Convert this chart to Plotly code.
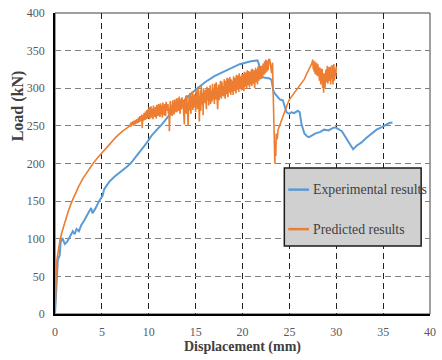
import plotly.graph_objects as go

# ---------------- data ----------------
exp_x = [0, 0.1, 0.2, 0.3, 0.5, 0.6, 0.77, 0.9, 1.05, 1.3, 1.6, 1.9, 2.1, 2.3, 2.55, 2.8, 3.1, 3.5, 3.85, 4.0,
         4.3, 4.7, 5.07, 5.25, 5.5, 5.8, 6.3, 6.8, 7.3, 7.7, 8.05, 8.6, 9.2, 9.7, 10.3, 10.8, 11.4, 12.1, 12.8,
         13.5, 14.2, 15.0, 16.0, 17.0, 17.8, 18.5, 19.1, 19.7, 20.3, 20.9, 21.6, 21.75, 21.9, 22.3, 22.9, 23.1,
         23.3, 23.5, 23.8, 24.0, 24.3, 24.5, 24.7, 25.0, 25.2, 25.5, 25.9, 26.1, 26.3, 26.6, 26.9, 27.1, 27.5,
         27.8, 28.3, 28.7, 29.2, 29.6, 29.9, 30.3, 30.6, 31.0, 31.4, 31.8, 32.2, 32.7, 33.2, 33.8, 34.3, 34.8,
         35.3, 35.7, 36.0]
exp_y = [0, 30, 58, 72, 78, 95, 101, 96, 93, 96, 103, 110, 106, 113, 110, 118, 124, 133, 141, 134,
         140, 150, 157, 166, 170, 176, 182, 187, 191, 196, 200, 208, 218, 226, 237, 244, 252, 263, 272,
         281, 289, 298, 308, 316, 321, 325, 329, 332, 334, 336, 337, 332, 315, 314, 313, 311,
         296, 292, 287, 285, 284, 275, 268, 266, 268, 267, 270, 268, 252, 240, 236, 235, 238,
         240, 242, 245, 244, 247, 248, 245, 243, 235, 227, 219, 224, 228, 234, 240, 245, 248,
         251, 254, 254]

# predicted curve: smooth rise, noisy plateau, sudden drop, recovery, noisy end
pred_rise_x = [0, 0.03, 0.07, 0.15, 0.24, 0.4, 0.52, 0.7, 0.87, 1.1, 1.4, 1.75, 2.1, 2.5, 2.97, 3.5,
               4.0, 4.5, 5.07, 5.8, 6.5, 7.2, 7.8]
pred_rise_y = [0, 25, 49, 65, 75, 90, 97, 107, 114, 125, 136, 148, 158, 169, 180, 190,
               199, 207, 215, 226, 235, 243, 249]

pred_noise1_x = [
    8.0, 8.05, 8.1, 8.15, 8.2, 8.25, 8.3, 8.35, 8.4, 8.45, 8.5, 8.55, 8.6, 8.65, 8.7, 8.75, 8.8, 8.85, 8.9, 8.95,
    9.0, 9.05, 9.1, 9.15, 9.2, 9.25, 9.3, 9.35, 9.4, 9.45, 9.5, 9.55, 9.6, 9.65, 9.7, 9.75, 9.8, 9.85, 9.9, 9.95,
    10.0, 10.05, 10.1, 10.15, 10.2, 10.25, 10.3, 10.35, 10.4, 10.45, 10.5, 10.55, 10.6, 10.65, 10.7, 10.75, 10.8, 10.85, 10.9, 10.95,
    11.0, 11.05, 11.1, 11.15, 11.2, 11.25, 11.3, 11.35, 11.4, 11.45, 11.5, 11.55, 11.6, 11.65, 11.7, 11.75, 11.8, 11.85, 11.9, 11.95,
    12.0, 12.05, 12.1, 12.15, 12.2, 12.25, 12.3, 12.35, 12.4, 12.45, 12.5, 12.55, 12.6, 12.65, 12.7, 12.75, 12.8, 12.85, 12.9, 12.95,
    13.0, 13.05, 13.1, 13.15, 13.2, 13.25, 13.3, 13.35, 13.4, 13.45, 13.5, 13.55, 13.6, 13.65, 13.7, 13.75, 13.8, 13.85, 13.9, 13.95,
    14.0, 14.05, 14.1, 14.15, 14.2, 14.25, 14.3, 14.35, 14.4, 14.45, 14.5, 14.55, 14.6, 14.65, 14.7, 14.75, 14.8, 14.85, 14.9, 14.95,
    15.0, 15.05, 15.1, 15.15, 15.2, 15.25, 15.3, 15.35, 15.4, 15.45, 15.5, 15.55, 15.6, 15.65, 15.7, 15.75, 15.8, 15.85, 15.9, 15.95,
    16.0, 16.05, 16.1, 16.15, 16.2, 16.25, 16.3, 16.35, 16.4, 16.45, 16.5, 16.55, 16.6, 16.65, 16.7, 16.75, 16.8, 16.85, 16.9, 16.95,
    17.0, 17.05, 17.1, 17.15, 17.2, 17.25, 17.3, 17.35, 17.4, 17.45, 17.5, 17.55, 17.6, 17.65, 17.7, 17.75, 17.8, 17.85, 17.9, 17.95,
    18.0, 18.05, 18.1, 18.15, 18.2, 18.25, 18.3, 18.35, 18.4, 18.45, 18.5, 18.55, 18.6, 18.65, 18.7, 18.75, 18.8, 18.85, 18.9, 18.95,
    19.0, 19.05, 19.1, 19.15, 19.2, 19.25, 19.3, 19.35, 19.4, 19.45, 19.5, 19.55, 19.6, 19.65, 19.7, 19.75, 19.8, 19.85, 19.9, 19.95,
    20.0, 20.05, 20.1, 20.15, 20.2, 20.25, 20.3, 20.35, 20.4, 20.45, 20.5, 20.55, 20.6, 20.65, 20.7, 20.75, 20.8, 20.85, 20.9, 20.95,
    21.0, 21.05, 21.1, 21.15, 21.2, 21.25, 21.3, 21.35, 21.4, 21.45, 21.5, 21.55, 21.6, 21.65, 21.7, 21.75, 21.8, 21.85, 21.9, 21.95,
    22.0, 22.05, 22.1, 22.15, 22.2, 22.25, 22.3, 22.35, 22.4, 22.45, 22.5, 22.55, 22.6, 22.65, 22.7, 22.75, 22.8]
pred_noise1_y = [
    250, 253, 249, 255, 252, 251, 256, 253, 250, 257, 254, 252, 258, 255, 253, 259, 256, 254, 261, 257,
    255, 263, 258, 261, 256, 265, 247, 259, 264, 257, 267, 261, 258, 269, 262, 259, 271, 264, 260, 272,
    262, 275, 259, 270, 266, 276, 261, 268, 273, 259, 277, 264, 270, 262, 275, 266, 260, 278, 268, 273,
    263, 279, 267, 274, 262, 280, 270, 265, 277, 261, 281, 268, 274, 264, 279, 270, 263, 282, 272, 276,
    270, 279, 266, 274, 243, 270, 283, 265, 278, 272, 263, 284, 269, 276, 265, 285, 271, 279, 268, 286,
    268, 287, 274, 281, 270, 289, 276, 266, 286, 279, 272, 288, 275, 283, 269, 277, 252, 286, 273, 290,
    266, 291, 277, 283, 251, 275, 288, 270, 294, 279, 266, 290, 282, 296, 271, 284, 274, 292, 279, 287,
    268, 298, 279, 290, 272, 302, 285, 276, 256, 284, 297, 270, 303, 286, 278, 294, 264, 300, 283, 291,
    280, 298, 288, 272, 302, 291, 284, 300, 277, 295, 286, 304, 279, 297, 289, 282, 306, 292, 285, 300,
    279, 306, 293, 285, 308, 296, 288, 272, 291, 305, 284, 299, 288, 310, 295, 286, 309, 298, 290, 303,
    289, 312, 298, 286, 310, 301, 292, 314, 296, 288, 313, 302, 294, 315, 299, 291, 312, 305, 295, 310,
    291, 316, 303, 296, 314, 300, 293, 318, 305, 298, 317, 304, 295, 320, 308, 299, 316, 306, 297, 319,
    298, 319, 306, 296, 322, 309, 302, 321, 307, 299, 324, 312, 304, 323, 308, 301, 322, 313, 305, 325,
    303, 326, 312, 306, 324, 309, 300, 318, 327, 308, 325, 313, 305, 329, 316, 310, 327, 318, 312, 330,
    312, 330, 318, 315, 333, 322, 318, 336, 325, 320, 338, 327, 322, 337, 328, 324, 338]

pred_drop_x = [22.9, 23.0, 23.1, 23.2, 23.3, 23.35, 23.4, 23.45, 23.5, 23.55, 23.6, 23.7, 23.8, 24.0, 24.2,
               24.4, 24.6, 24.8, 25.0, 25.3, 25.6, 25.9, 26.2, 26.4, 26.6, 26.8, 27.0, 27.2, 27.4]
pred_drop_y = [338, 330, 320, 334, 285, 250, 215, 200, 230, 210, 240, 232, 245, 252, 260,
               266, 272, 279, 285, 290, 296, 300, 305, 308, 312, 318, 323, 328, 333]

pred_noise2_x = [
    27.5, 27.55, 27.6, 27.65, 27.7, 27.75, 27.8, 27.85, 27.9, 27.95, 28.0, 28.05, 28.1, 28.15, 28.2, 28.25, 28.3, 28.35, 28.4, 28.45,
    28.5, 28.55, 28.6, 28.65, 28.7, 28.75, 28.8, 28.85, 28.9, 28.95, 29.0, 29.05, 29.1, 29.15, 29.2, 29.25, 29.3, 29.35, 29.4, 29.45,
    29.5, 29.55, 29.6, 29.65, 29.7, 29.75, 29.8, 29.85, 29.9, 29.95, 30.0]
pred_noise2_y = [
    338, 325, 334, 322, 336, 319, 330, 318, 334, 321, 316, 332, 318, 327, 310, 328, 313, 305, 326, 312,
    326, 300, 318, 294, 320, 305, 300, 315, 325, 308, 318, 330, 306, 322, 328, 310, 312, 329, 305, 320,
    312, 331, 315, 305, 324, 332, 310, 320, 326, 316, 329]

pred_x = pred_rise_x + pred_noise1_x + pred_drop_x + pred_noise2_x
pred_y = pred_rise_y + pred_noise1_y + pred_drop_y + pred_noise2_y

series_names = ["Experimental results", "Predicted results"]
series_colors = ["#5B9BD5", "#ED7D31"]

x_ticks = [0, 5, 10, 15, 20, 25, 30, 35, 40]
y_ticks = [0, 50, 100, 150, 200, 250, 300, 350, 400]

FONT = "Liberation Serif"

fig = go.Figure()
fig.add_trace(go.Scatter(x=exp_x, y=exp_y, mode="lines", name=series_names[0],
                         line=dict(color=series_colors[0], width=2)))
fig.add_trace(go.Scatter(x=pred_x, y=pred_y, mode="lines", name=series_names[1],
                         line=dict(color=series_colors[1], width=1.6)))

fig.update_layout(
    width=442, height=360,
    margin=dict(l=55, r=6, t=9, b=46),
    paper_bgcolor="white", plot_bgcolor="white",
    showlegend=False,
    font=dict(family=FONT, color="#595959", size=12),
)
fig.update_xaxes(
    range=[0, 40], tickvals=x_ticks, ticktext=[str(v) for v in x_ticks],
    showgrid=True, gridcolor="#222222", griddash="6px,4px", gridwidth=1,
    zeroline=False, showline=True, linecolor="black", linewidth=1.5,
    ticks="", ticklabelstandoff=6,
    tickfont=dict(family=FONT, size=12, color="#595959"),
    title=dict(text="<b>Displacement (mm)</b>", font=dict(family=FONT, size=14, color="#404040"),
               standoff=0),
)
fig.update_yaxes(
    range=[0, 400], tickvals=y_ticks, ticktext=[str(v) for v in y_ticks],
    showgrid=True, gridcolor="#808080", griddash="6px,4px", gridwidth=1,
    zeroline=False, showline=True, linecolor="black", linewidth=1.5,
    ticks="", ticklabelstandoff=6,
    tickfont=dict(family=FONT, size=12, color="#595959"),
)

# top and right frame (lighter)
fig.add_shape(type="rect", xref="paper", yref="paper", x0=0, x1=1, y0=0, y1=1,
              line=dict(color="#404040", width=1), layer="below")

# y-axis title placed as in the reference (above centre)
fig.add_annotation(text="<b>Load (kN)</b>", xref="paper", yref="paper",
                   x=(17 - 55) / 381, y=(314 - 103) / 305, textangle=-90,
                   showarrow=False, xanchor="center", yanchor="middle",
                   font=dict(family=FONT, size=16, color="#404040"))

# legend box drawn to match the reference
bx0, bx1 = (288 - 55) / 381, (427 - 55) / 381
by0, by1 = (314 - 245) / 305, (314 - 166) / 305
fig.add_shape(type="rect", xref="paper", yref="paper", x0=bx0, x1=bx1, y0=by0, y1=by1,
              fillcolor="#D0D0D0", line=dict(color="#1a1a1a", width=1.5), layer="above")
legend_rows_px = [188, 228]
for name, color, ypx in zip(series_names, series_colors, legend_rows_px):
    yp = (314 - ypx) / 305
    fig.add_shape(type="line", xref="paper", yref="paper",
                  x0=(292 - 55) / 381, x1=(313 - 55) / 381, y0=yp, y1=yp,
                  line=dict(color=color, width=2.5), layer="above")
    fig.add_annotation(text=name, xref="paper", yref="paper", x=(315 - 55) / 381, y=yp,
                       xanchor="left", yanchor="middle", showarrow=False,
                       font=dict(family=FONT, size=13.8, color="#404040"))

fig.write_html("out.html")
